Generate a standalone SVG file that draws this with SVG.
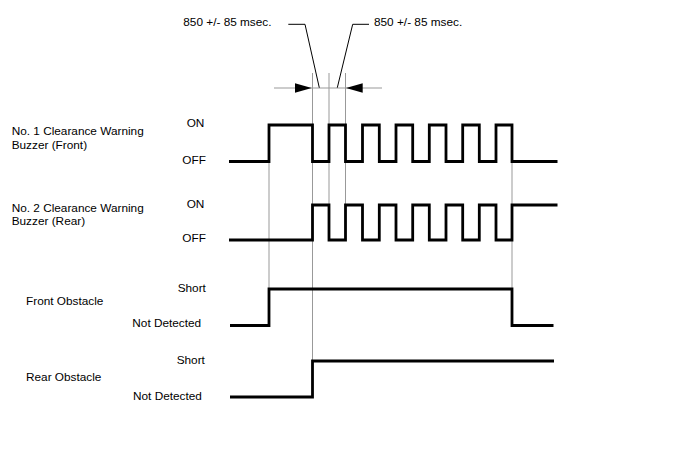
<svg xmlns="http://www.w3.org/2000/svg" width="688" height="463" viewBox="0 0 688 463">
<style>
text{font-family:"Liberation Sans",Arial,sans-serif;font-size:11.8px;fill:#000}
.sig{fill:none;stroke:#000;stroke-width:2.8;stroke-linejoin:miter;stroke-linecap:butt}
.thin{fill:none;stroke:#999;stroke-width:1}
.lead{fill:none;stroke:#000;stroke-width:1}
</style>
<rect width="688" height="463" fill="#fff"/>
<g id="connectors">
<line class="thin" x1="269" y1="125" x2="269" y2="289"/>
<line class="thin" x1="312.5" y1="73" x2="312.5" y2="361"/>
<line class="thin" x1="329" y1="73" x2="329" y2="205"/>
<line class="thin" x1="345.5" y1="73" x2="345.5" y2="205"/>
<line class="thin" x1="512" y1="125" x2="512" y2="289"/>
<line class="thin" x1="274" y1="88" x2="382" y2="88"/>
<polygon points="295,83.3 311.7,88 295,92.7" fill="#000"/>
<polygon points="362.7,83.3 346,88 362.7,92.7" fill="#000"/>
<polyline class="lead" points="288.3,24.3 305,24.3 319.3,87.7"/>
<polyline class="lead" points="369,24.3 352.7,24.3 337.3,87.7"/>
</g>
<g id="dim-left"><text x="183.3" y="26">850 +/- 85 msec.</text></g>
<g id="dim-right"><text x="374" y="26">850 +/- 85 msec.</text></g>
<g id="buzzer1">
<text x="11.7" y="135">No. 1 Clearance Warning</text>
<text x="11.7" y="148.5">Buzzer (Front)</text>
<text x="186.7" y="126.7">ON</text>
<text x="182.3" y="164.3">OFF</text>
<path class="sig" d="M229,161.5 H269 V125 H312.5 V161.5 H329 V125 H345.5 V161.5 H362.5 V125 H379.3 V161.5 H396 V125 H412.7 V161.5 H429.3 V125 H446 V161.5 H462.7 V125 H479.3 V161.5 H496 V125 H512 V161.5 H557.5"/>
</g>
<g id="buzzer2">
<text x="11.7" y="211.7">No. 2 Clearance Warning</text>
<text x="11.7" y="225">Buzzer (Rear)</text>
<text x="186.7" y="207.7">ON</text>
<text x="182.3" y="241.7">OFF</text>
<path class="sig" d="M229,240 H312.5 V205 H329 V240 H345.5 V205 H362.5 V240 H379.3 V205 H396 V240 H412.7 V205 H429.3 V240 H446 V205 H462.7 V240 H479.3 V205 H496 V240 H512 V205 H557.5"/>
</g>
<g id="front-obstacle">
<text x="26" y="305">Front Obstacle</text>
<text x="177.7" y="291.7">Short</text>
<text x="132.3" y="326.7">Not Detected</text>
<path class="sig" d="M230,325.5 H269 V289 H512 V325.5 H553.5"/>
</g>
<g id="rear-obstacle">
<text x="26" y="380.7">Rear Obstacle</text>
<text x="176.7" y="364.3">Short</text>
<text x="133" y="400">Not Detected</text>
<path class="sig" d="M230,397 H312.5 V361 H554"/>
</g>
</svg>
